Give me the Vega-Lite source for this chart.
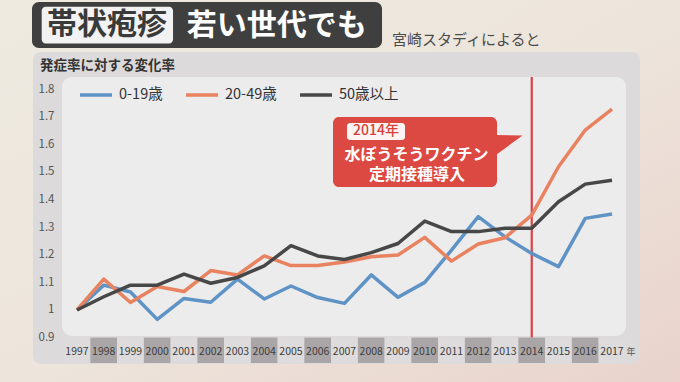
{
  "$schema": "https://vega.github.io/schema/vega-lite/v6.json",
  "width": 680,
  "height": 382,
  "autosize": {"type": "none"},
  "padding": 0,
  "background": "#ede7df",
  "config": {"view": {"stroke": null}, "font": "Noto Sans CJK JP", "axis": {"labelOverlap": false, "zindex": 3, "labelFlush": false, "grid": false, "domain": false, "ticks": false, "title": null}},
  "datasets": {
    "series": [
      {"year": 1997, "group": "0-19歳", "value": 1.0},
      {"year": 1998, "group": "0-19歳", "value": 1.09},
      {"year": 1999, "group": "0-19歳", "value": 1.065},
      {"year": 2000, "group": "0-19歳", "value": 0.966},
      {"year": 2001, "group": "0-19歳", "value": 1.042},
      {"year": 2002, "group": "0-19歳", "value": 1.028},
      {"year": 2003, "group": "0-19歳", "value": 1.112},
      {"year": 2004, "group": "0-19歳", "value": 1.04},
      {"year": 2005, "group": "0-19歳", "value": 1.087},
      {"year": 2006, "group": "0-19歳", "value": 1.045},
      {"year": 2007, "group": "0-19歳", "value": 1.024},
      {"year": 2008, "group": "0-19歳", "value": 1.127},
      {"year": 2009, "group": "0-19歳", "value": 1.046},
      {"year": 2010, "group": "0-19歳", "value": 1.1},
      {"year": 2011, "group": "0-19歳", "value": 1.217},
      {"year": 2012, "group": "0-19歳", "value": 1.338},
      {"year": 2013, "group": "0-19歳", "value": 1.265},
      {"year": 2014, "group": "0-19歳", "value": 1.205},
      {"year": 2015, "group": "0-19歳", "value": 1.157},
      {"year": 2016, "group": "0-19歳", "value": 1.332},
      {"year": 2017, "group": "0-19歳", "value": 1.348},
      {"year": 1997, "group": "20-49歳", "value": 1.0},
      {"year": 1998, "group": "20-49歳", "value": 1.112},
      {"year": 1999, "group": "20-49歳", "value": 1.027},
      {"year": 2000, "group": "20-49歳", "value": 1.085},
      {"year": 2001, "group": "20-49歳", "value": 1.067},
      {"year": 2002, "group": "20-49歳", "value": 1.143},
      {"year": 2003, "group": "20-49歳", "value": 1.127},
      {"year": 2004, "group": "20-49歳", "value": 1.196},
      {"year": 2005, "group": "20-49歳", "value": 1.161},
      {"year": 2006, "group": "20-49歳", "value": 1.161},
      {"year": 2007, "group": "20-49歳", "value": 1.174},
      {"year": 2008, "group": "20-49歳", "value": 1.193},
      {"year": 2009, "group": "20-49歳", "value": 1.199},
      {"year": 2010, "group": "20-49歳", "value": 1.263},
      {"year": 2011, "group": "20-49歳", "value": 1.177},
      {"year": 2012, "group": "20-49歳", "value": 1.239},
      {"year": 2013, "group": "20-49歳", "value": 1.262},
      {"year": 2014, "group": "20-49歳", "value": 1.344},
      {"year": 2015, "group": "20-49歳", "value": 1.519},
      {"year": 2016, "group": "20-49歳", "value": 1.652},
      {"year": 2017, "group": "20-49歳", "value": 1.728},
      {"year": 1997, "group": "50歳以上", "value": 1.0},
      {"year": 1998, "group": "50歳以上", "value": 1.048},
      {"year": 1999, "group": "50歳以上", "value": 1.09},
      {"year": 2000, "group": "50歳以上", "value": 1.09},
      {"year": 2001, "group": "50歳以上", "value": 1.13},
      {"year": 2002, "group": "50歳以上", "value": 1.097},
      {"year": 2003, "group": "50歳以上", "value": 1.118},
      {"year": 2004, "group": "50歳以上", "value": 1.16},
      {"year": 2005, "group": "50歳以上", "value": 1.233},
      {"year": 2006, "group": "50歳以上", "value": 1.196},
      {"year": 2007, "group": "50歳以上", "value": 1.183},
      {"year": 2008, "group": "50歳以上", "value": 1.208},
      {"year": 2009, "group": "50歳以上", "value": 1.241},
      {"year": 2010, "group": "50歳以上", "value": 1.322},
      {"year": 2011, "group": "50歳以上", "value": 1.284},
      {"year": 2012, "group": "50歳以上", "value": 1.284},
      {"year": 2013, "group": "50歳以上", "value": 1.296},
      {"year": 2014, "group": "50歳以上", "value": 1.296},
      {"year": 2015, "group": "50歳以上", "value": 1.392},
      {"year": 2016, "group": "50歳以上", "value": 1.456},
      {"year": 2017, "group": "50歳以上", "value": 1.47}
    ],
    "years": [
      {"year": 1997}, {"year": 1998}, {"year": 1999}, {"year": 2000}, {"year": 2001},
      {"year": 2002}, {"year": 2003}, {"year": 2004}, {"year": 2005}, {"year": 2006},
      {"year": 2007}, {"year": 2008}, {"year": 2009}, {"year": 2010}, {"year": 2011},
      {"year": 2012}, {"year": 2013}, {"year": 2014}, {"year": 2015}, {"year": 2016},
      {"year": 2017}
    ],
    "one": [{}]
  },
  "layer": [
    {
      "data": {"name": "one"},
      "mark": {"type": "rect", "fill": {"gradient": "linear", "x1": 0, "y1": 0, "x2": 1, "y2": 1, "stops": [{"offset": 0, "color": "#eeeae0"}, {"offset": 0.5, "color": "#ede5dc"}, {"offset": 1, "color": "#e9d3cc"}]}},
      "encoding": {
        "x": {"datum": 1994.1215, "type": "quantitative"},
        "x2": {"datum": 2019.542},
        "y": {"datum": 0.7391, "type": "quantitative"},
        "y2": {"datum": 2.1232}
      }
    },
    {
      "data": {"name": "one"},
      "mark": {"type": "rect", "fill": "#dcdada", "cornerRadius": 8},
      "encoding": {
        "x": {"datum": 1995.355, "type": "quantitative"},
        "x2": {"datum": 2018.047},
        "y": {"datum": 0.8044, "type": "quantitative"},
        "y2": {"datum": 1.9348}
      }
    },
    {
      "data": {"name": "one"},
      "mark": {"type": "rect", "fill": "#ececec", "cornerRadius": 10},
      "encoding": {
        "x": {"datum": 1996.439, "type": "quantitative"},
        "x2": {"datum": 2017.524},
        "y": {"datum": 0.9058, "type": "quantitative"},
        "y2": {"datum": 1.8442}
      }
    },
    {
      "data": {"name": "one"},
      "mark": {"type": "rect", "fill": "#3f3f3f", "cornerRadius": 7},
      "encoding": {
        "x": {"datum": 1995.318, "type": "quantitative"},
        "x2": {"datum": 2008.402},
        "y": {"datum": 1.9493, "type": "quantitative"},
        "y2": {"datum": 2.116}
      }
    },
    {
      "data": {"name": "one"},
      "mark": {"type": "rect", "fill": "#f2f2f2", "cornerRadius": 4},
      "encoding": {
        "x": {"datum": 1995.68, "type": "quantitative"},
        "x2": {"datum": 2000.59},
        "y": {"datum": 1.966, "type": "quantitative"},
        "y2": {"datum": 2.0985}
      }
    },
    {
      "data": {"name": "one"},
      "mark": {"type": "text", "fontSize": 30, "fontWeight": "bold", "color": "#3a3a3a", "align": "center", "baseline": "middle"},
      "encoding": {
        "x": {"datum": 1998.121, "type": "quantitative"},
        "y": {"datum": 2.0326, "type": "quantitative"},
        "text": {"value": "帯状疱疹"}
      }
    },
    {
      "data": {"name": "one"},
      "mark": {"type": "text", "fontSize": 30, "fontWeight": "bold", "color": "#ffffff", "align": "center", "baseline": "middle"},
      "encoding": {
        "x": {"datum": 2004.465, "type": "quantitative"},
        "y": {"datum": 2.0308, "type": "quantitative"},
        "text": {"value": "若い世代でも"}
      }
    },
    {
      "data": {"name": "one"},
      "mark": {"type": "text", "fontSize": 15, "color": "#4a4a4a", "align": "left", "baseline": "middle"},
      "encoding": {
        "x": {"datum": 2008.776, "type": "quantitative"},
        "y": {"datum": 1.9783, "type": "quantitative"},
        "text": {"value": "宮崎スタディによると"}
      }
    },
    {
      "data": {"name": "one"},
      "mark": {"type": "text", "fontSize": 13.5, "fontWeight": "bold", "color": "#333333", "align": "left", "baseline": "middle"},
      "encoding": {
        "x": {"datum": 1995.617, "type": "quantitative"},
        "y": {"datum": 1.8841, "type": "quantitative"},
        "text": {"value": "発症率に対する変化率"}
      }
    },
    {
      "data": {"name": "years"},
      "mark": {"type": "bar", "width": 26.75},
      "encoding": {
        "x": {"field": "year", "type": "quantitative"},
        "y": {"datum": 0.9, "type": "quantitative"},
        "y2": {"datum": 0.808},
        "color": {"condition": {"test": "datum.year % 2 == 0", "value": "#aaa6a7"}, "value": "#dddbdb"}
      }
    },
    {
      "data": {"name": "years"},
      "mark": {"type": "text", "fontSize": 10.5, "color": "#3d3d3d", "align": "center", "baseline": "middle"},
      "encoding": {
        "x": {"field": "year", "type": "quantitative"},
        "y": {"datum": 0.8478, "type": "quantitative"},
        "text": {"field": "year", "type": "quantitative", "format": "d"}
      }
    },
    {
      "data": {"name": "one"},
      "mark": {"type": "text", "fontSize": 9, "color": "#555555", "align": "center", "baseline": "middle"},
      "encoding": {
        "x": {"datum": 2017.71, "type": "quantitative"},
        "y": {"datum": 0.8478, "type": "quantitative"},
        "text": {"value": "年"}
      }
    },
    {
      "data": {"name": "one"},
      "mark": {"type": "rule", "color": "#d9424a", "strokeWidth": 2.2},
      "encoding": {
        "x": {"datum": 2014, "type": "quantitative"},
        "y": {"datum": 0.9, "type": "quantitative"},
        "y2": {"datum": 1.844}
      }
    },
    {
      "data": {"name": "series"},
      "mark": {"type": "line", "strokeWidth": 3.5, "strokeJoin": "round"},
      "encoding": {
        "x": {
          "field": "year", "type": "quantitative",
          "scale": {"domain": [1994.1215, 2019.542], "nice": false, "zero": false, "padding": 0},
          "axis": {"title": null, "labels": false, "domain": false, "ticks": false, "grid": false}
        },
        "y": {
          "field": "value", "type": "quantitative",
          "scale": {"domain": [0.7391, 2.1232], "nice": false, "zero": false, "padding": 0},
          "axis": {"title": null, "orient": "left", "offset": -56, "zindex": 3, "values": [0.9, 1.0, 1.1, 1.2, 1.3, 1.4, 1.5, 1.6, 1.7, 1.8], "format": ".1~f", "domain": false, "ticks": false, "tickSize": 0, "grid": false, "labelPadding": 2, "labelFontSize": 11.5, "labelColor": "#555555", "labelAlign": "right", "labelBaseline": "middle", "labelFlush": false, "labelOverlap": false}
        },
        "color": {
          "field": "group", "type": "nominal",
          "scale": {"domain": ["0-19歳", "20-49歳", "50歳以上"], "range": ["#5f93c6", "#e9825f", "#474747"]},
          "legend": {"title": null, "orient": "none", "legendX": 78, "legendY": 77, "direction": "horizontal", "symbolType": "stroke", "symbolSize": 1024, "symbolStrokeWidth": 3.5, "labelFontSize": 14.5, "labelColor": "#333333", "labelOffset": 5, "columnPadding": 16, "padding": 0}
        }
      }
    },
    {
      "data": {"name": "one"},
      "mark": {"type": "rect", "fill": "#dc4842", "cornerRadius": 6},
      "encoding": {
        "x": {"datum": 2006.57, "type": "quantitative"},
        "x2": {"datum": 2012.701},
        "y": {"datum": 1.4457, "type": "quantitative"},
        "y2": {"datum": 1.6993}
      }
    },
    {
      "data": {"name": "one"},
      "mark": {"type": "point", "shape": "M-1,-0.75 L1,-0.7 L-1,0.75 Z", "size": 729, "filled": true, "fill": "#dc4842", "opacity": 1, "strokeWidth": 0},
      "encoding": {
        "x": {"datum": 2013.15, "type": "quantitative"},
        "y": {"datum": 1.5978, "type": "quantitative"}
      }
    },
    {
      "data": {"name": "one"},
      "mark": {"type": "rect", "fill": "#fbf4f2", "cornerRadius": 3},
      "encoding": {
        "x": {"datum": 2007.094, "type": "quantitative"},
        "x2": {"datum": 2009.262},
        "y": {"datum": 1.6159, "type": "quantitative"},
        "y2": {"datum": 1.6775}
      }
    },
    {
      "data": {"name": "one"},
      "mark": {"type": "text", "fontSize": 14, "fontWeight": 500, "color": "#d8403a", "align": "center", "baseline": "middle"},
      "encoding": {
        "x": {"datum": 2008.178, "type": "quantitative"},
        "y": {"datum": 1.6468, "type": "quantitative"},
        "text": {"value": "2014年"}
      }
    },
    {
      "data": {"name": "one"},
      "mark": {"type": "text", "fontSize": 16, "fontWeight": "bold", "color": "#ffffff", "align": "center", "baseline": "middle"},
      "encoding": {
        "x": {"datum": 2009.692, "type": "quantitative"},
        "y": {"datum": 1.5598, "type": "quantitative"},
        "text": {"value": "水ぼうそうワクチン"}
      }
    },
    {
      "data": {"name": "one"},
      "mark": {"type": "text", "fontSize": 16, "fontWeight": "bold", "color": "#ffffff", "align": "center", "baseline": "middle"},
      "encoding": {
        "x": {"datum": 2009.71, "type": "quantitative"},
        "y": {"datum": 1.4891, "type": "quantitative"},
        "text": {"value": "定期接種導入"}
      }
    }
  ]
}
